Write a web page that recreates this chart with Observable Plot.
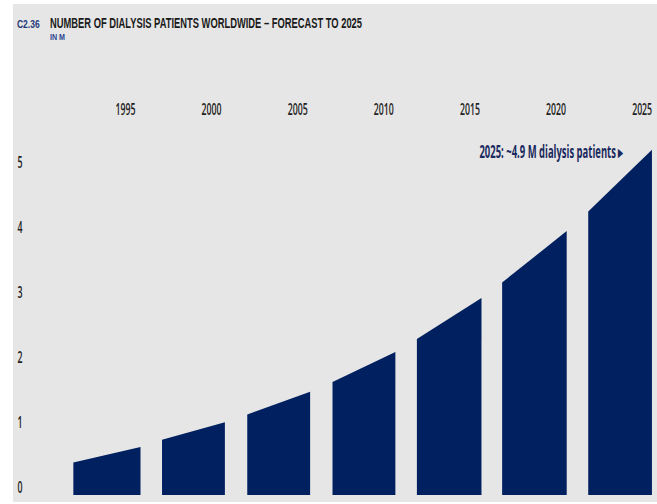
<!DOCTYPE html>
<html>
<head>
<meta charset="utf-8">
<script src="https://cdn.jsdelivr.net/npm/d3@7"></script>
<script src="https://cdn.jsdelivr.net/npm/@observablehq/plot@0.6"></script>
<style>
  html, body { margin: 0; padding: 0; background: #ffffff; }
  #wrap { position: absolute; left: 13px; top: 4px; width: 644px; height: 498px; background: #e6e6e6; overflow: hidden; font-family: "Liberation Sans", Arial, sans-serif; }
  .lbl { position: absolute; white-space: nowrap; transform-origin: 0 50%; font-weight: 700; line-height: 1; }
  #code { left: 4px; top: 15.4px; font-size: 10.5px; color: #1f3a7a; }
  #title { left: 37px; top: 12px; font-size: 14px; color: #1a1a1a; }
  #sub { left: 37px; top: 27.5px; font-size: 9.5px; color: #2a4590; }
  #chart { position: absolute; left: 0; top: 41px; }
</style>
</head>
<body>
<div id="wrap">
  <div class="lbl" id="code">C2.36</div>
  <div class="lbl" id="title">NUMBER OF DIALYSIS PATIENTS WORLDWIDE – FORECAST TO 2025</div>
  <div class="lbl" id="sub">IN M</div>
  <div id="chart"></div>
</div>
<script>
// ---- data ----
const tickYears = [1995, 2000, 2005, 2010, 2015, 2020, 2025];
const yTicks = [0, 1, 2, 3, 4, 5];
const barStart = [1992.0, 1997.15, 2002.1, 2007.05, 2011.95, 2016.9, 2021.9];
const barEnd = [1995.9, 2000.8, 2005.75, 2010.7, 2015.7, 2020.65, 2025.6];
const valueStart = [0.50, 0.85, 1.24, 1.74, 2.40, 3.27, 4.36];
const valueEnd = [0.74, 1.12, 1.59, 2.20, 3.03, 4.06, 5.31];
const noteText = ["2025: ~4.9 M dialysis patients ▸"];
const noteYear = [2023.9];
const noteValue = [5.28];

const navy = "#00205f";

const rows = barStart.flatMap((s, i) => [
  {bar: i, year: s, value: valueStart[i]},
  {bar: i, year: barEnd[i], value: valueEnd[i]}
]);
const notes = noteText.map((t, i) => ({label: t, year: noteYear[i], value: noteValue[i]}));

const chart = Plot.plot({
  width: 644,
  height: 457,
  marginLeft: 25.9,
  marginRight: 1.6,
  marginTop: 86,
  marginBottom: 7,
  style: {background: "transparent", fontFamily: "'Open Sans', 'Noto Sans', sans-serif", fontSize: "16px", color: "#222"},
  x: {domain: [1990, 2025.8], label: null},
  y: {domain: [0, 5.6], label: null},
  marks: [
    Plot.areaY(rows, {x: "year", y: "value", z: "bar", fill: navy}),
    Plot.axisX(tickYears, {anchor: "top", label: null, tickSize: 0, tickPadding: 17, tickFormat: "d", fill: "#222", fontSize: 17, fontWeight: 600}),
    Plot.axisY(yTicks, {anchor: "left", label: null, tickSize: 0, tickPadding: 0, textAnchor: "start", dx: -22, dy: -8, tickFormat: "d", fill: "#222", fontSize: 17, fontWeight: 600}),
    Plot.text(notes, {x: "year", y: "value", text: "label", textAnchor: "end", fill: "#1b2a5e", fontWeight: "bold", fontSize: 17})
  ]
});
document.getElementById("chart").appendChild(chart);

// horizontally condense texts around their anchor points
function condense(el, k) {
  const x = parseFloat(el.getAttribute("x") || "0");
  const t = el.getAttribute("transform") || "";
  el.setAttribute("transform", `${t} translate(${x},0) scale(${k},1) translate(${-x},0)`);
}
const texts = Array.from(chart.querySelectorAll("text"));
const yearEl = texts.find(t => t.textContent === "1995");
const kTick = yearEl ? 20 / yearEl.getComputedTextLength() : 0.58;
texts.forEach(t => {
  if (t.textContent.startsWith("2025:")) {
    condense(t, 144 / t.getComputedTextLength());
  } else {
    condense(t, kTick);
  }
});

function fit(id, w) {
  const el = document.getElementById(id);
  el.style.transform = `scaleX(${w / el.offsetWidth})`;
}
fit("code", 22.6);
fit("title", 312);
fit("sub", 15);
</script>
</body>
</html>
